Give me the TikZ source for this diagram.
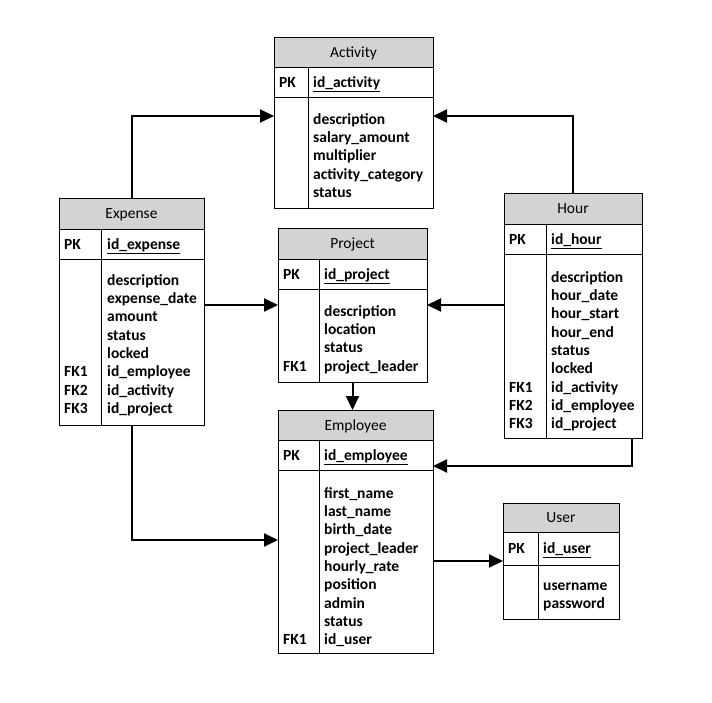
\documentclass[tikz,border=0pt]{standalone}
\usepackage{fontspec}
\setmainfont{Carlito}
\usetikzlibrary{arrows.meta}
\definecolor{hdrgray}{RGB}{211,211,211}
\tikzset{
  tblbox/.style={draw=black, line width=0.9pt, inner sep=0pt, outer sep=0pt, rectangle},
  hdrbox/.style={draw=black, line width=0.9pt, fill=hdrgray, inner sep=0pt, outer sep=0pt, rectangle, font=\fontsize{15.5}{18}\selectfont},
  rule/.style={draw=black, line width=0.9pt},
  keytxt/.style={anchor=west, inner sep=0pt, text height=12.5pt, text depth=2pt, font=\fontsize{15.5}{18}\selectfont\bfseries},
  fld/.style={anchor=west, inner sep=0pt, text height=12.5pt, text depth=2pt, font=\fontsize{15.5}{18}\selectfont\bfseries},
  conn/.style={draw=black, line width=2pt, -{Triangle[length=14pt,width=13pt]}}
}
% #1 name #2 title #3 L #4 T #5 R #6 H #7 P #8 B #9 D
\newcommand\ertbl[9]{%
  \node[hdrbox, minimum width={#5-#3}, minimum height={#6-#4}, text height=12.5pt, text depth=2pt] (#1-h) at ({(#3+#5)/2},{(#4+#6)/2}) {#2};
  \node[tblbox, minimum width={#5-#3}, minimum height={#8-#4}] (#1) at ({(#3+#5)/2},{(#4+#8)/2}) {};
  \draw[rule] (#3,#7) -- (#5,#7);
  \draw[rule] (#9,#6) -- (#9,#8);
}
% #1 name #2 x #3 y0 #4 list
\newcommand\erfields[4]{%
  \foreach \t [count=\i] in {#4} {
    \node[fld] (#1-f\i) at (#2,{#3+18.3*(\i-1)}) {\t};
  }
}
\begin{document}
\begin{tikzpicture}[x=1pt,y=-1pt]
\useasboundingbox[fill=white] (0,0) rectangle (712,702);

% Activity
\ertbl{act}{Activity}{274}{37}{433}{67}{97}{208}{308}
\node[keytxt] (act-pk) at (279,82) {PK};
\node[fld] (act-id) at (313,82) {\underline{id\_activity}};
\erfields{act}{313}{119}{description,salary\_amount,multiplier,activity\_category,status}

% Expense
\ertbl{exp}{Expense}{59}{198}{204}{229}{259}{425}{101}
\node[keytxt] (exp-pk) at (64,244) {PK};
\node[fld] (exp-id) at (107,244) {\underline{id\_expense}};
\erfields{exp}{107}{280}{description,expense\_date,amount,status,locked,id\_employee,id\_activity,id\_project}
\node[keytxt] (exp-fk1) at (64,{280+18.3*5}) {FK1};
\node[keytxt] (exp-fk2) at (64,{280+18.3*6}) {FK2};
\node[keytxt] (exp-fk3) at (64,{280+18.3*7}) {FK3};

% Project
\ertbl{proj}{Project}{278}{228}{427}{259}{289}{382}{319}
\node[keytxt] (proj-pk) at (283,274) {PK};
\node[fld] (proj-id) at (324,274) {\underline{id\_project}};
\erfields{proj}{324}{311}{description,location,status,project\_leader}
\node[keytxt] (proj-fk1) at (283,{311+18.3*3}) {FK1};

% Hour
\ertbl{hour}{Hour}{504}{193}{642}{224}{254}{438}{546}
\node[keytxt] (hour-pk) at (509,239) {PK};
\node[fld] (hour-id) at (551,239) {\underline{id\_hour}};
\erfields{hour}{551}{277}{description,hour\_date,hour\_start,hour\_end,status,locked,id\_activity,id\_employee,id\_project}
\node[keytxt] (hour-fk1) at (509,{277+18.3*6}) {FK1};
\node[keytxt] (hour-fk2) at (509,{277+18.3*7}) {FK2};
\node[keytxt] (hour-fk3) at (509,{277+18.3*8}) {FK3};

% Employee
\ertbl{emp}{Employee}{278}{410}{433}{440}{470}{653}{319}
\node[keytxt] (emp-pk) at (283,455) {PK};
\node[fld] (emp-id) at (324,455) {\underline{id\_employee}};
\erfields{emp}{324}{493}{first\_name,last\_name,birth\_date,project\_leader,hourly\_rate,position,admin,status,id\_user}
\node[keytxt] (emp-fk1) at (283,{493+18.3*8}) {FK1};

% User
\ertbl{user}{User}{503}{503}{619}{532}{565}{619}{538}
\node[keytxt] (user-pk) at (508,548) {PK};
\node[fld] (user-id) at (543,548) {\underline{id\_user}};
\erfields{user}{543}{585}{username,password}

% Connectors
\draw[conn] (exp.north) |- ([yshift=6.5pt]act.west);
\draw[conn] (hour.north) |- ([yshift=6.5pt]act.east);
\draw[conn] (exp.east |- proj.west) -- (proj.west);
\draw[conn] (hour.west |- proj.east) -- (proj.east);
\draw[conn] (proj.south) -- (proj.south |- emp.north);
\draw[conn] ([xshift=59pt]hour.south) |- ([yshift=65.5pt]emp.east);
\draw[conn] (exp.south) |- ([yshift=-8.5pt]emp.west);
\draw[conn] (emp.east |- user.west) -- (user.west);
\end{tikzpicture}
\end{document}
